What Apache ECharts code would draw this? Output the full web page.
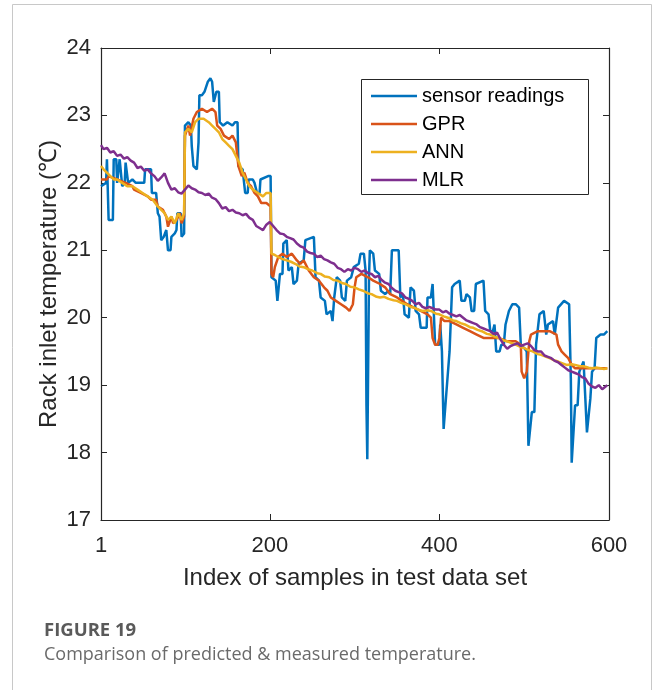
<!DOCTYPE html>
<html>
<head>
<meta charset="utf-8">
<script src="https://cdn.jsdelivr.net/npm/echarts@6/dist/echarts.min.js"></script>
<style>html,body{margin:0;padding:0;background:#fff}#c{width:654px;height:690px}</style>
</head>
<body>
<div id="c"></div>
<script>
// ---------- data (sample index, temperature) ----------
const xTicks = [1, 200, 400, 600];
const yTicks = [17, 18, 19, 20, 21, 22, 23, 24];
const seriesNames = ['sensor readings', 'GPR', 'ANN', 'MLR'];

const sensorX = [1,7,8,9,10,15,16,19,20,22,23,25,26,29,30,32,33,38,42,45,52,53,60,61,66,68,70,72,75,78,80,83,84,88,90,91,95,96,99,100,104,107,108,110,114,116,117,120,123,125,127,130,132,134,136,137,140,141,145,150,156,159,162,163,168,170,171,174,175,180,182,185,188,189,198,201,202,207,209,211,212,215,216,220,222,226,228,232,234,240,242,252,254,258,260,265,267,272,274,276,279,283,285,289,291,296,299,305,307,311,313,314,315,316,317,318,322,324,329,331,336,340,342,344,352,354,357,359,364,366,370,372,376,378,385,386,390,392,394,395,400,401,403,405,407,408,410,412,414,415,418,424,426,430,432,436,438,441,443,452,454,458,460,463,465,467,471,473,476,478,482,486,490,494,496,500,503,505,507,509,512,514,516,518,523,526,528,534,536,538,540,547,553,555,556,558,560,563,565,570,572,574,576,578,580,583,585,590,594,598];
const sensorY = [21.95,22.0,22.35,22.35,21.45,21.45,22.35,22.35,22.0,22.0,22.35,22.35,21.95,22.0,22.3,22.3,22.0,22.05,22.0,22.0,22.0,22.2,22.2,21.85,21.85,21.55,21.5,21.15,21.2,21.3,21.0,21.0,21.2,21.25,21.3,21.55,21.55,21.2,21.25,22.85,22.9,22.85,22.55,22.25,22.2,22.6,23.3,23.3,23.35,23.35,23.5,23.55,23.5,23.2,23.2,23.35,23.35,22.9,22.85,22.9,22.85,22.9,22.9,22.25,22.2,22.2,21.85,21.85,22.05,22.05,22.0,21.85,21.85,22.05,22.1,22.1,20.6,20.55,20.25,20.25,20.65,20.65,21.1,21.15,20.7,20.75,20.5,20.55,20.8,20.85,21.15,21.2,20.6,20.55,20.3,20.25,20.05,20.1,19.95,20.3,20.6,20.55,20.3,20.25,20.55,20.6,20.75,20.8,20.95,20.95,20.7,18.7,17.9,17.9,20.6,21.0,20.95,20.7,20.65,20.4,20.35,20.4,20.35,21.0,21.0,20.3,20.35,20.05,20.0,20.45,20.4,20.1,20.05,19.85,19.85,20.3,20.3,20.5,20.5,19.6,19.6,19.9,19.5,18.35,18.35,18.85,18.85,19.5,19.5,20.45,20.5,20.55,20.25,20.25,20.35,20.3,20.1,20.1,20.5,20.55,20.1,20.05,19.8,19.8,19.9,19.5,19.5,19.6,19.6,19.9,20.1,20.2,20.2,20.15,19.6,19.55,19.5,18.1,18.1,18.6,18.6,19.6,19.6,20.05,20.1,19.75,19.9,19.95,19.75,19.75,20.15,20.25,20.2,19.1,17.85,17.85,18.7,18.7,19.2,19.35,19.35,18.3,18.3,18.8,19.2,19.25,19.7,19.75,19.75,19.8];

const gprX = [1,8,10,20,30,38,40,48,56,60,66,68,74,78,80,84,86,90,94,96,99,100,104,106,110,114,120,126,132,136,138,142,146,152,156,160,163,167,170,174,178,182,186,190,196,201,202,204,206,210,215,220,226,232,236,240,246,252,258,264,268,272,278,284,290,294,298,300,302,308,316,322,330,336,342,350,356,362,370,378,386,390,392,395,398,400,402,406,412,420,428,436,444,452,460,470,480,490,496,497,500,503,506,508,516,524,530,538,540,544,548,552,556,560,570,580,590,598];
const gprY = [22.05,22.05,22.1,22.05,22.0,21.95,21.9,21.85,21.8,21.75,21.75,21.65,21.6,21.5,21.35,21.5,21.4,21.45,21.55,21.4,21.5,22.7,22.85,22.7,22.95,23.05,23.1,23.05,23.1,23.05,22.85,22.8,22.7,22.65,22.7,22.6,22.25,22.1,22.15,22.0,21.95,21.85,21.8,21.7,21.7,21.65,20.65,20.6,20.75,20.9,20.95,20.9,20.95,20.85,20.8,20.85,20.7,20.6,20.55,20.45,20.4,20.3,20.25,20.2,20.15,20.1,20.2,20.45,20.6,20.65,20.6,20.55,20.5,20.45,20.35,20.3,20.25,20.2,20.15,20.1,20.05,20.0,19.7,19.6,19.6,19.7,20.0,19.95,19.95,19.9,19.85,19.8,19.75,19.7,19.7,19.7,19.65,19.65,19.6,19.2,19.1,19.2,19.65,19.75,19.8,19.8,19.8,19.75,19.6,19.5,19.45,19.4,19.3,19.25,19.25,19.25,19.25,19.25];

const annX = [1,4,8,12,16,20,26,32,38,44,50,56,62,68,72,76,80,84,88,92,96,99,100,104,108,112,116,122,128,132,136,140,144,148,152,156,160,164,168,172,176,180,186,192,196,201,202,206,210,215,220,225,230,235,240,245,250,256,260,265,270,275,280,286,290,295,300,305,310,316,320,326,330,335,340,346,350,355,360,366,370,375,380,386,390,396,400,405,410,416,420,425,430,436,440,445,450,456,460,465,470,476,480,486,490,495,500,505,510,516,520,526,530,535,540,546,550,556,560,566,570,576,580,586,590,594,598];
const annY = [22.25,22.2,22.15,22.1,22.05,22.05,22.0,21.95,21.95,21.9,21.85,21.8,21.75,21.65,21.6,21.55,21.45,21.5,21.4,21.55,21.45,21.55,22.75,22.8,22.75,22.9,22.95,22.95,22.9,22.85,22.8,22.75,22.65,22.6,22.55,22.5,22.4,22.3,22.15,22.05,21.95,21.9,21.85,21.8,21.85,21.85,20.95,20.93,20.9,20.87,20.85,20.83,20.8,20.76,20.75,20.72,20.7,20.66,20.65,20.61,20.6,20.56,20.55,20.51,20.5,20.46,20.45,20.42,20.4,20.36,20.35,20.31,20.3,20.31,20.28,20.26,20.25,20.22,20.2,20.16,20.15,20.12,20.1,20.11,20.1,20.06,20.05,20.02,20.0,19.96,19.95,19.92,19.9,19.86,19.85,19.82,19.8,19.76,19.75,19.72,19.7,19.66,19.65,19.62,19.6,19.57,19.55,19.52,19.5,19.46,19.45,19.42,19.4,19.37,19.35,19.32,19.3,19.31,19.3,19.28,19.28,19.26,19.25,19.26,19.25,19.24,19.25];

const mlrX = [1,4,8,12,16,20,24,28,32,36,40,44,48,52,56,60,64,68,72,76,80,84,88,92,96,100,104,108,112,116,120,124,128,132,136,140,144,148,152,156,160,164,168,172,176,180,184,188,192,196,200,204,208,212,216,220,224,228,232,236,240,244,248,252,256,260,264,268,272,276,280,284,288,292,296,300,304,308,312,316,320,324,328,332,336,340,344,348,352,356,360,364,368,372,376,380,384,388,392,396,400,404,408,412,416,420,424,428,432,436,440,444,448,452,456,460,464,468,472,476,480,484,488,492,496,500,504,508,512,516,520,524,528,532,536,540,544,548,552,556,560,564,568,572,576,580,584,588,592,596,598];
const mlrY = [22.56,22.5,22.52,22.45,22.47,22.4,22.42,22.36,22.38,22.33,22.3,22.22,22.24,22.18,22.2,22.14,22.1,22.03,22.08,22.14,22.0,21.9,21.92,21.86,21.84,21.9,21.96,21.92,21.9,21.86,21.85,21.82,21.84,21.78,21.76,21.7,21.62,21.64,21.58,21.6,21.56,21.55,21.52,21.54,21.48,21.45,21.36,21.33,21.3,21.38,21.42,21.36,21.3,21.25,21.24,21.2,21.18,21.16,21.1,21.06,21.04,20.98,20.96,20.95,20.9,20.92,20.87,20.85,20.82,20.8,20.74,20.72,20.68,20.72,20.7,20.74,20.72,20.68,20.7,20.66,20.65,20.6,20.62,20.56,20.52,20.5,20.44,20.4,20.38,20.36,20.3,20.28,20.25,20.2,20.22,20.16,20.14,20.16,20.14,20.12,20.12,20.08,20.1,20.06,20.04,20.02,20.04,20.0,19.96,19.94,19.92,19.9,19.86,19.84,19.82,19.8,19.76,19.78,19.68,19.6,19.54,19.58,19.6,19.62,19.58,19.6,19.62,19.58,19.52,19.5,19.5,19.44,19.42,19.4,19.36,19.34,19.3,19.26,19.22,19.2,19.18,19.16,19.12,19.1,19.02,18.98,18.96,19.0,18.94,18.98,19.0];

const colors = ['#0072BD', '#D95319', '#EDB120', '#7E2F8E'];
// ------------------------------------------------------

const pairs = (xs, ys) => xs.map((x, i) => [x, ys[i]]);
const FONT = '"Liberation Sans", Arial, sans-serif';
const CAP = '"Open Sans", Lato, sans-serif';
const AX = '#262626';

const chart = echarts.init(document.getElementById('c'), null, {renderer: 'canvas'});

const mkSeries = (name, xs, ys, color) => ({
  name, type: 'line', data: pairs(xs, ys), symbol: 'none', showSymbol: false,
  lineStyle: {color, width: 2.5}, itemStyle: {color}, xAxisIndex: 0, yAxisIndex: 0,
  emphasis: {disabled: true}
});

chart.setOption({
  animation: false,
  backgroundColor: '#ffffff',
  grid: {left: 101, right: 45, top: 48, bottom: 170, containLabel: false, outerBoundsMode: 'none'},
  xAxis: [
    {type: 'value', min: 1, max: 600, position: 'bottom',
     name: 'Index of samples in test data set', nameLocation: 'middle', nameGap: 46,
     nameMoveOverlap: false,
     nameTextStyle: {fontSize: 24, fontFamily: FONT, color: AX},
     axisLine: {show: true, onZero: false, lineStyle: {color: AX, width: 1.2}},
     axisTick: {show: true, inside: true, length: 6, customValues: xTicks, lineStyle: {color: AX}},
     axisLabel: {show: true, customValues: xTicks, fontSize: 22, fontFamily: FONT, color: AX, margin: 15},
     splitLine: {show: false}},
    {type: 'value', min: 1, max: 600, position: 'top',
     axisLine: {show: true, onZero: false, lineStyle: {color: AX, width: 1.2}},
     axisTick: {show: true, inside: true, length: 6, customValues: xTicks, lineStyle: {color: AX}},
     axisLabel: {show: false}, splitLine: {show: false}}
  ],
  yAxis: [
    {type: 'value', min: 17, max: 24, interval: 1, position: 'left',
     name: 'Rack inlet temperature (℃)', nameLocation: 'middle', nameGap: 40, nameRotate: 90,
     nameMoveOverlap: false,
     nameTextStyle: {fontSize: 24, fontFamily: FONT, color: AX},
     axisLine: {show: true, onZero: false, lineStyle: {color: AX, width: 1.2}},
     axisTick: {show: true, inside: true, length: 6, lineStyle: {color: AX}},
     axisLabel: {fontSize: 22, fontFamily: FONT, color: AX, margin: 10},
     splitLine: {show: false}},
    {type: 'value', min: 17, max: 24, interval: 1, position: 'right',
     axisLine: {show: true, onZero: false, lineStyle: {color: AX, width: 1.2}},
     axisTick: {show: true, inside: true, length: 6, lineStyle: {color: AX}},
     axisLabel: {show: false}, splitLine: {show: false}}
  ],
  legend: {
    data: seriesNames, orient: 'vertical', left: 371, top: 86, padding: 0,
    icon: 'rect', itemWidth: 46, itemHeight: 2.5, itemGap: 8, z: 10,
    textStyle: {fontSize: 20, fontFamily: FONT, color: '#000', lineHeight: 20},
    selectedMode: false
  },
  series: [
    mkSeries(seriesNames[0], sensorX, sensorY, colors[0]),
    mkSeries(seriesNames[1], gprX, gprY, colors[1]),
    mkSeries(seriesNames[2], annX, annY, colors[2]),
    mkSeries(seriesNames[3], mlrX, mlrY, colors[3])
  ],
  graphic: [
    {type: 'rect', z: 0, silent: true, shape: {x: 12.5, y: 4.5, width: 639, height: 700},
     style: {fill: 'none', stroke: '#c8c8c8', lineWidth: 1}},
    {type: 'rect', z: 5, silent: true, shape: {x: 361.5, y: 79.5, width: 227, height: 115},
     style: {fill: '#ffffff', stroke: AX, lineWidth: 1}},
    {type: 'text', left: 44, top: 621, silent: true,
     style: {text: 'FIGURE 19', fontSize: 18.5, fontWeight: 'bold', fontFamily: CAP, fill: '#5a5a5a'}},
    {type: 'text', left: 44, top: 646, silent: true,
     style: {text: 'Comparison of predicted & measured temperature.', fontSize: 18, fontFamily: CAP, fill: '#6a6a6a'}}
  ]
});
</script>
</body>
</html>
